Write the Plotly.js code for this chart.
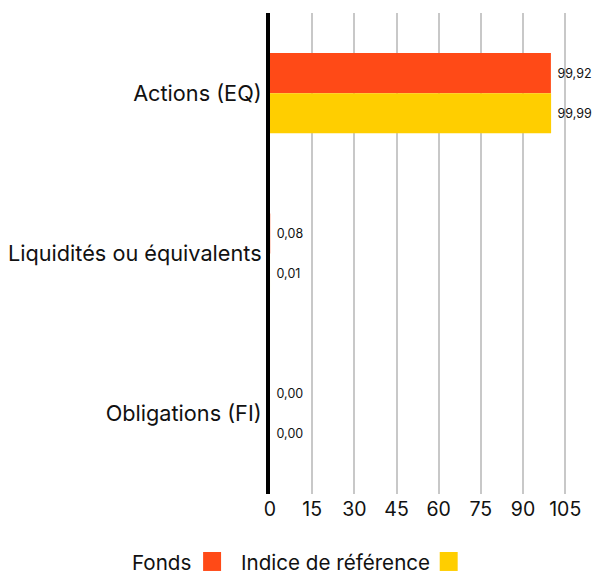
<!DOCTYPE html>
<html><head><meta charset="utf-8">
<script src="https://cdn.plot.ly/plotly-3.0.1.min.js"></script>
<style>html,body{margin:0;padding:0;background:#fff}</style>
</head><body>
<div id="chart" style="width:597px;height:576px"></div>
<script>
const categories = ["Actions (EQ)", "Liquidités ou équivalents", "Obligations (FI)"];
const fondsValues = [99.92, 0.08, 0.00];
const indiceValues = [99.99, 0.01, 0.00];
const tickValues = [0, 15, 30, 45, 60, 75, 90, 105];
const seriesNames = ["Fonds", "Indice de référence"];
const colors = ["#FF4A17", "#FFCE00"];

const FONT = "Inter, 'Noto Sans', sans-serif";
const traces = [
  {type:'bar', orientation:'h', name:seriesNames[0], y:categories, x:fondsValues,
   marker:{color:colors[0]}, texttemplate:' %{x:.2f}', textposition:'outside',
   textfont:{size:12.5, color:'#111', family:FONT}, cliponaxis:false, hoverinfo:'none'},
  {type:'bar', orientation:'h', name:seriesNames[1], y:categories, x:indiceValues,
   marker:{color:colors[1]}, texttemplate:' %{x:.2f}', textposition:'outside',
   textfont:{size:12.5, color:'#111', family:FONT}, cliponaxis:false, hoverinfo:'none'}
];
const layout = {
  width:597, height:576,
  margin:{l:270, r:28.5, t:13, b:82},
  separators:', ',
  barmode:'group', bargap:0.5, bargroupgap:0,
  showlegend:false,
  font:{family:FONT, color:'#111'},
  plot_bgcolor:'#fff', paper_bgcolor:'#fff',
  xaxis:{range:[0,106], tickvals:tickValues, ticktext:tickValues.map(String),
    showgrid:true, gridcolor:'#c8c8c8', gridwidth:2, zeroline:false, showline:false,
    tickfont:{size:19.5, family:FONT, color:'#111'}, ticks:'', ticklabelstandoff:1},
  yaxis:{autorange:'reversed', showline:true, linecolor:'#000', linewidth:4,
    ticks:'', showgrid:false, tickfont:{size:21.7, family:FONT, color:'#111'}, ticklabelstandoff:0},
  annotations:[
    {xref:'paper', yref:'paper', x:-0.258, y:-0.1414, xanchor:'right', yanchor:'middle',
     text:seriesNames[0], showarrow:false, font:{size:20.6, family:FONT, color:'#111'}},
    {xref:'paper', yref:'paper', x:0.5427, y:-0.1414, xanchor:'right', yanchor:'middle',
     text:seriesNames[1], showarrow:false, font:{size:20.6, family:FONT, color:'#111'}}
  ],
  shapes:[
    {type:'rect', xref:'paper', yref:'paper', x0:-0.2245, x1:-0.1642, y0:-0.160, y1:-0.1206,
     fillcolor:colors[0], line:{width:0}},
    {type:'rect', xref:'paper', yref:'paper', x0:0.5695, x1:0.6298, y0:-0.160, y1:-0.1206,
     fillcolor:colors[1], line:{width:0}}
  ]
};
Plotly.newPlot('chart', traces, layout, {displayModeBar:false, staticPlot:true});
</script>
</body></html>
